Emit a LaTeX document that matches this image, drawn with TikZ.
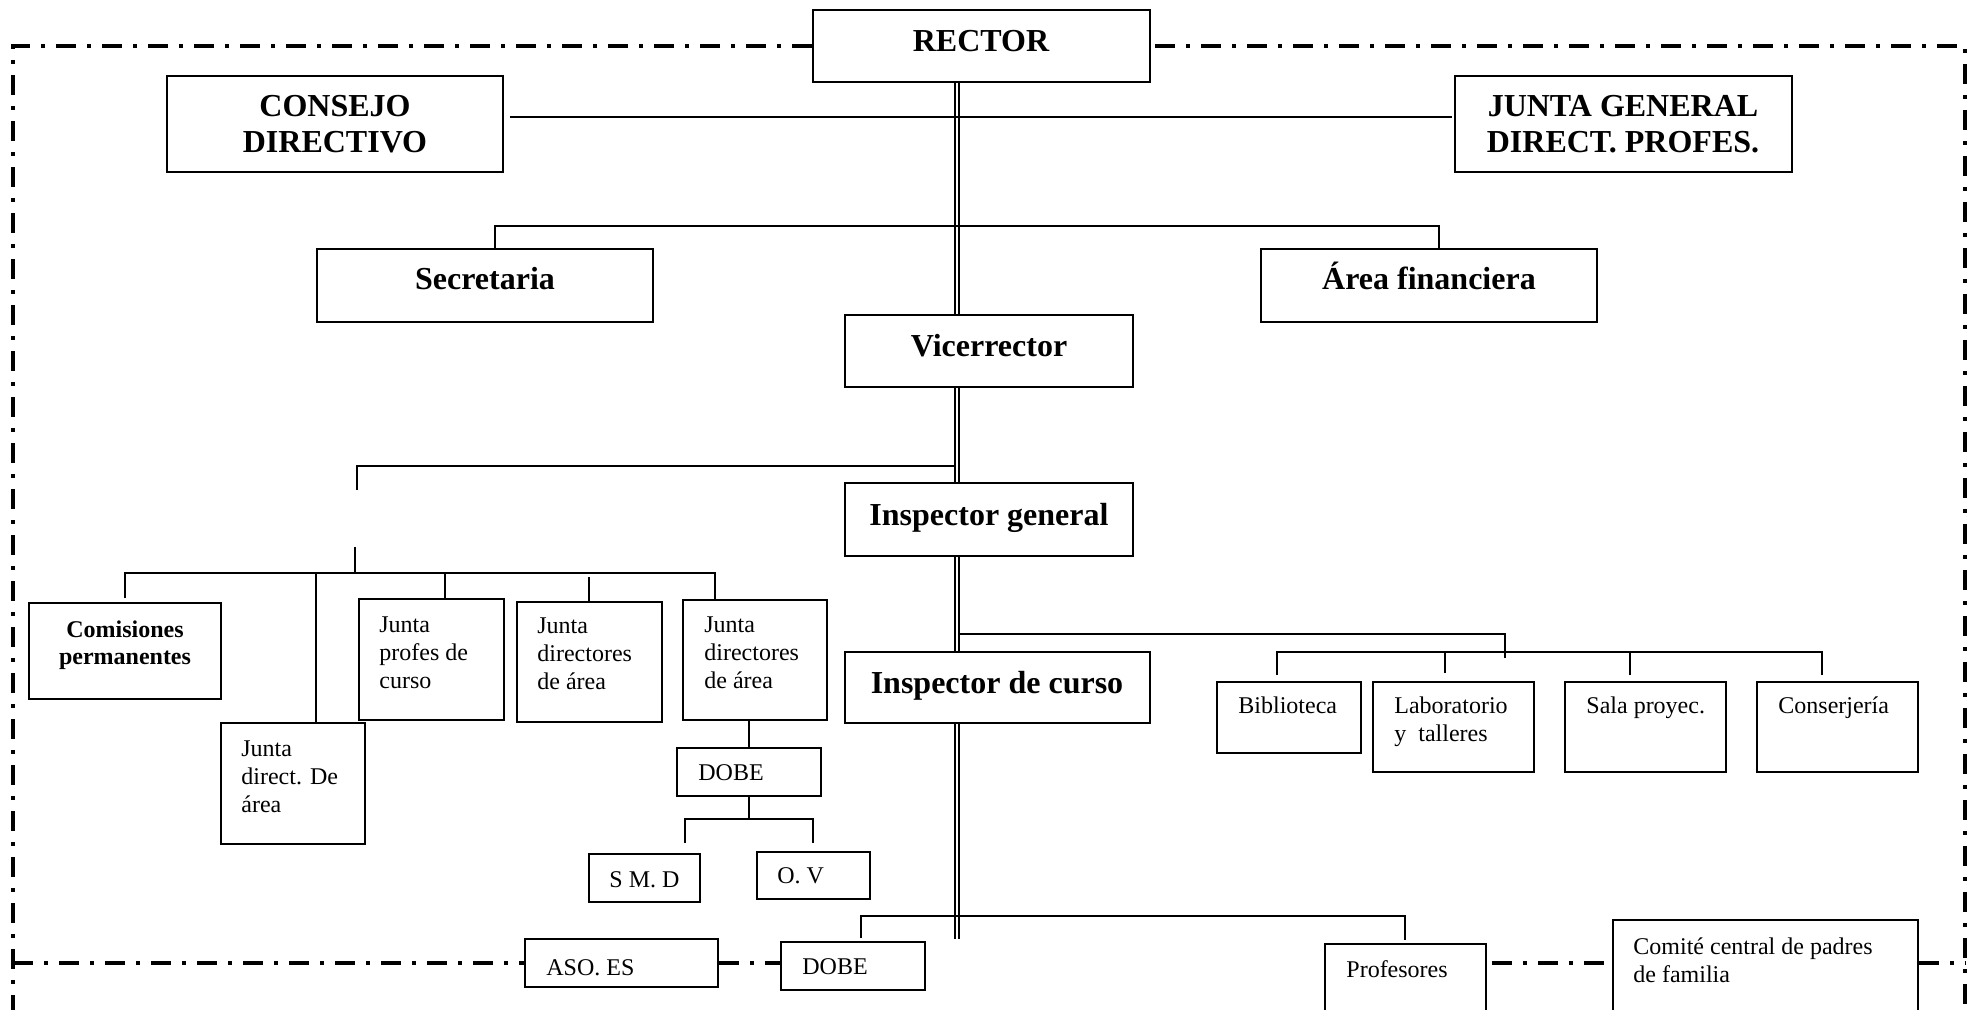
\documentclass[tikz,border=0pt]{standalone}
\usepackage{fontspec}
\setmainfont{Liberation Serif}
\newcommand{\Lcol}[1]{\begin{tabular}[t]{@{}l@{}}#1\end{tabular}}
\newcommand{\Ccol}[1]{\begin{tabular}[t]{@{}c@{}}#1\end{tabular}}
\newcommand{\bx}[5]{\node[box, minimum width={(#4-#2)*0.5pt}, minimum height={(#5-#3)*0.5pt}] (#1) at ({(#2+#4)/2},{(#3+#5)/2}) {};}
\begin{document}
\begin{tikzpicture}[x=0.5pt,y=-0.5pt,
  box/.style={draw, line width=0.8pt, inner sep=0pt, rectangle},
  conn/.style={line width=0.9pt},
  dbl/.style={line width=0.75pt, double, double distance=1.3pt},
  frame/.style={line width=1.7pt, dash pattern=on 10pt off 5.5pt on 2pt off 5.5pt},
  big/.style={font=\fontsize{16}{18}\selectfont\bfseries, inner sep=0pt, anchor=base},
  smb/.style={font=\fontsize{12}{13.5}\selectfont\bfseries, inner sep=0pt, anchor=base},
  sm/.style={font=\fontsize{12}{14}\selectfont, inner sep=0pt, anchor=base west},
]
\useasboundingbox (0,0) rectangle (1974,1010);
\clip (0,0) rectangle (1974,1010);

% boxes
\bx{rector}{813}{10}{1150}{82}
\bx{consejo}{167}{76}{503}{172}
\bx{junta}{1455}{76}{1792}{172}
\bx{secre}{317}{249}{653}{322}
\bx{area}{1261}{249}{1597}{322}
\bx{vice}{845}{315}{1133}{387}
\bx{insg}{845}{483}{1133}{556}
\bx{insc}{845}{652}{1150}{723}
\bx{comis}{29}{603}{221}{699}
\bx{jprof}{359}{599}{504}{720}
\bx{jdir1}{517}{602}{662}{722}
\bx{jdir2}{683}{600}{827}{720}
\bx{jdda}{221}{723}{365}{844}
\bx{dobe1}{677}{748}{821}{796}
\bx{smd}{589}{854}{700}{902}
\bx{ov}{757}{852}{870}{899}
\bx{aso}{525}{939}{718}{987}
\bx{dobe2}{781}{942}{925}{990}
\bx{bib}{1217}{682}{1361}{753}
\bx{lab}{1373}{682}{1534}{772}
\bx{sala}{1565}{682}{1726}{772}
\bx{conse}{1757}{682}{1918}{772}
\bx{prof}{1325}{944}{1486}{1040}
\bx{comite}{1613}{920}{1918}{1040}

% texts
\node[big] (tRector) at (981,52) {RECTOR};
\node[big] (tConsejo) at (335,117) {\Ccol{CONSEJO\\DIRECTIVO}};
\node[big] (tJunta) at (1623,117) {\Ccol{JUNTA GENERAL\\DIRECT. PROFES.}};
\node[big] (tSecre) at (485,290) {Secretaria};
\node[big] (tArea) at (1429,290) {Área financiera};
\node[big] (tVice) at (989,357) {Vicerrector};
\node[big] (tInsg) at (989,525) {Inspector general};
\node[big] (tInsc) at (997,693) {Inspector de curso};
\node[smb] (tComis) at (125,637) {\Ccol{Comisiones\\permanentes}};
\node[sm] (tJprof) at (379,632) {\Lcol{Junta\\profes de\\curso}};
\node[sm] (tJdir1) at (537,633) {\Lcol{Junta\\directores\\de área}};
\node[sm] (tJdir2) at (704,632) {\Lcol{Junta\\directores\\de área}};
\node[sm] (tJdda) at (241,756) {\Lcol{Junta\\direct. De\\área}};
\node[sm] (tDobe1) at (698,780) {DOBE};
\node[sm] (tSmd) at (609,887) {S M. D};
\node[sm] (tOv) at (777,883) {O. V};
\node[sm] (tAso) at (546,975) {ASO. ES};
\node[sm] (tDobe2) at (802,974) {DOBE};
\node[sm] (tBib) at (1238,713) {Biblioteca};
\node[sm] (tLab) at (1394,713) {\Lcol{Laboratorio\\y\ \ talleres}};
\node[sm] (tSala) at (1586,713) {Sala proyec.};
\node[sm] (tConse) at (1778,713) {Conserjería};
\node[sm] (tProf) at (1346,977) {Profesores};
\node[sm] (tComite) at (1633,954) {\Lcol{Comité central de padres\\de familia}};

% coordinates
\coordinate (sp) at (957,0);
\coordinate (spEnd) at (957,939);
\coordinate (h1) at (0,117);
\coordinate (s2a) at (495,226);
\coordinate (s2b) at (1439,226);
\coordinate (l3) at (357,466);
\coordinate (l3e) at (357,490);
\coordinate (l4s) at (355,547);
\coordinate (l4) at (355,573);
\coordinate (l4a) at (125,573);
\coordinate (l4b) at (715,573);
\coordinate (d1) at (316,573);
\coordinate (d2) at (445,573);
\coordinate (d3) at (589,573);
\coordinate (t5) at (749,819);
\coordinate (t5a) at (685,819);
\coordinate (t5b) at (813,819);
\coordinate (r6) at (1505,634);
\coordinate (r6b) at (1505,658);
\coordinate (q1) at (1277,652);
\coordinate (q2) at (1445,652);
\coordinate (q3) at (1630,652);
\coordinate (q4) at (1822,652);
\coordinate (u1) at (861,916);
\coordinate (u2) at (1405,916);

% spine (double line)
\draw[dbl] (sp |- rector.south) -- (sp |- vice.north);
\draw[dbl] (sp |- vice.south) -- (sp |- insg.north);
\draw[dbl] (sp |- insg.south) -- (sp |- insc.north);
\draw[dbl] (sp |- insc.south) -- (spEnd);

% connectors
\draw[conn, shorten <=3pt, shorten >=1pt] (consejo.east |- h1) -- (junta.west |- h1);
\draw[conn] (s2a |- secre.north) -- (s2a) -- (s2b) -- (s2b |- area.north);
\draw[conn, shorten <=1.1pt] (sp |- l3) -- (l3) -- (l3e);
\draw[conn] (l4s) -- (l4);
\draw[conn, shorten <=2pt] (l4a |- comis.north) -- (l4a) -- (l4b) -- (l4b |- jdir2.north);
\draw[conn] (d1) -- (d1 |- jdda.north);
\draw[conn] (d2) -- (d2 |- jprof.north);
\draw[conn, shorten <=2pt] (d3) -- (d3 |- jdir1.north);
\draw[conn] (dobe1.north |- jdir2.south) -- (dobe1.north);
\draw[conn] (dobe1.south) -- (t5);
\draw[conn, shorten <=5pt, shorten >=4pt] (t5a |- smd.north) -- (t5a) -- (t5b) -- (t5b |- ov.north);
\draw[conn, shorten <=1.1pt] (sp |- r6) -- (r6) -- (r6b);
\draw[conn, shorten <=3pt, shorten >=3pt] (q1 |- bib.north) -- (q1) -- (q4) -- (q4 |- conse.north);
\draw[conn, shorten >=4pt] (q2) -- (q2 |- lab.north);
\draw[conn, shorten >=3pt] (q3) -- (q3 |- sala.north);
\draw[conn, shorten <=1.5pt, shorten >=1.5pt] (u1 |- dobe2.north) -- (u1) -- (u2) -- (u2 |- prof.north);

% dash-dot frame
\coordinate (fTL) at (13,46);
\coordinate (fBL) at (13,1015);
\coordinate (fTR) at (1965,46);
\coordinate (fBR) at (1965,1015);
\coordinate (fb) at (0,963);
\draw[frame] (rector.west |- fTL) -- (fTL) -- (fBL);
\draw[frame, shorten <=2pt] (rector.east |- fTR) -- (fTR) -- (fBR);
\draw[frame] (fTL |- fb) -- (aso.west |- fb);
\draw[frame] (aso.east |- fb) -- (dobe2.west |- fb);
\draw[frame, shorten <=2.5pt] (prof.east |- fb) -- (comite.west |- fb);
\draw[frame] (comite.east |- fb) -- (fTR |- fb);
\end{tikzpicture}
\end{document}
